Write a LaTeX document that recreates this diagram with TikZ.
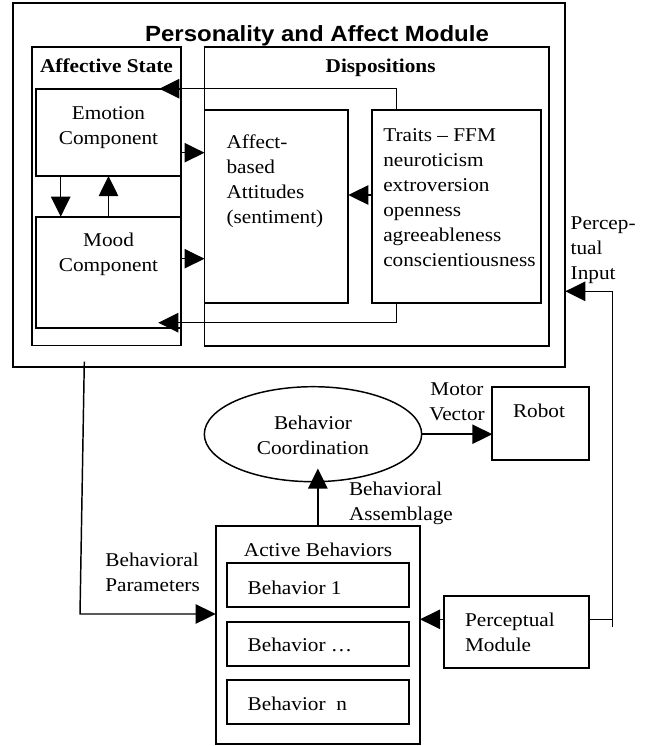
\documentclass[tikz,border=0pt]{standalone}
\usepackage{fontspec}
\setmainfont[FakeStretch=1.09]{Liberation Serif}
\setsansfont[FakeStretch=1.09]{Liberation Sans}
\usetikzlibrary{arrows.meta,shapes.geometric}
\newcommand\txtblock[2]{\begin{tabular}[t]{@{}#1@{}}#2\end{tabular}}
\newcommand\boxnode[5]{\node[box, minimum width={(#4-#2)*0.75pt}, minimum height={(#5-#3)*0.75pt}] (#1) at ({(#2+#4)/2},{(#3+#5)/2}) {};}
\begin{document}
\begin{tikzpicture}[x=0.75pt,y=-0.75pt,
  font=\fontsize{14.625pt}{18.75pt}\selectfont,
  box/.style={draw, line width=1.4pt, rectangle, inner sep=0pt, outer sep=0pt},
  conn/.style={line width=1.1pt},
  arr/.style={conn, -{Triangle[length=15pt,width=14.5pt]}},
  txt/.style={inner sep=0pt, outer sep=0pt},
  lbl/.style={txt, anchor=base west},
  ctr/.style={txt, anchor=base}]
\useasboundingbox (0,0) rectangle (646,746);

% boxes
\boxnode{outer}{12.6}{3.3}{565.3}{367.3}
\boxnode{affst}{32}{46.7}{181}{345.5}
\boxnode{disp}{204.5}{46.7}{549}{345.7}
\boxnode{emo}{36}{88.7}{181}{176}
\boxnode{mood}{36}{216.7}{181}{327.7}
\boxnode{aff}{204.5}{110}{348.3}{302.7}
\boxnode{traits}{372.3}{110}{541}{302.7}
\boxnode{robot}{492.3}{387.3}{589}{460}
\boxnode{act}{215.7}{526}{420}{744}
\boxnode{bone}{227.3}{563.3}{409}{606.7}
\boxnode{bdots}{227.3}{621.7}{409}{665.7}
\boxnode{bn}{227.3}{680}{409}{724}
\boxnode{perc}{444.3}{595.7}{589}{668.3}
\node[draw, ellipse, line width=1.1pt, inner sep=0pt, outer sep=0pt,
  minimum width=163pt, minimum height=71.25pt] (coord) at (313,434.2) {};

% texts
\node[ctr] (tTitle) at (317,41.7) {\sffamily\bfseries\fontsize{16.5pt}{20pt}\selectfont Personality and Affect Module};
\node[ctr] (tAS) at (106.5,72.7) {\bfseries Affective State};
\node[ctr] (tDisp) at (380.6,72.7) {\bfseries Dispositions};
\node[ctr] (tEmo) at (108.5,119.3) {\txtblock{c}{Emotion\\Component}};
\node[ctr] (tMood) at (108.5,246.7) {\txtblock{c}{Mood\\Component}};
\node[lbl] (tAff) at (226.5,148.3) {\txtblock{l}{Affect-\\based\\Attitudes\\(sentiment)}};
\node[lbl] (tTraits) at (383.3,141.7) {\txtblock{l}{Traits – FFM\\neuroticism\\extroversion\\openness\\agreeableness\\conscientiousness}};
\node[lbl] (tPI) at (570.7,229.3) {\txtblock{l}{Percep-\\tual\\Input}};
\node[ctr] (tCoord) at (313,429.3) {\txtblock{c}{Behavior\\Coordination}};
\node[ctr] (tMV) at (457,395) {\txtblock{c}{Motor\\Vector}};
\node[ctr] (tRobot) at (539,417.7) {Robot};
\node[lbl] (tBA) at (349,495) {\txtblock{l}{Behavioral\\Assemblage}};
\node[lbl] (tBP) at (105.4,566) {\txtblock{l}{Behavioral\\Parameters}};
\node[ctr] (tAct) at (318,556.7) {Active Behaviors};
\node[lbl] (tB1) at (247.7,594) {Behavior 1};
\node[lbl] (tB2) at (247.7,651.7) {Behavior …};
\node[lbl] (tB3) at (247.7,710) {Behavior~ n};
\node[lbl] (tPM) at (465,626) {\txtblock{l}{Perceptual\\Module}};

% connectors
\coordinate (tx) at (396.7,0);
\coordinate (topTip) at (159.3,88.7);
\coordinate (botTip) at (158.3,322.7);
\draw[arr] (tx |- traits.north) |- (topTip);
\draw[arr] (tx |- traits.south) |- (botTip);
\coordinate (yEA) at (0,152.7);
\draw[arr] (emo.east |- yEA) -- (aff.west |- yEA);
\coordinate (yMA) at (0,258.7);
\draw[arr] (mood.east |- yMA) -- (aff.west |- yMA);
\coordinate (yTA) at (0,195);
\draw[arr] (traits.west |- yTA) -- (aff.east |- yTA);
\coordinate (xEM) at (60.7,0);
\draw[arr] (emo.south -| xEM) -- (mood.north -| xEM);
\draw[arr] (mood.north) -- (emo.south);

\coordinate (bpS) at (84.3,361.7);
\coordinate (bpC) at (80,614);
\draw[arr] (bpS) -- (bpC) -- (act.west |- bpC);
\coordinate (ellTip) at (318,468.5);
\draw[arr] (act.north) -- (act.north |- ellTip);
\draw[arr] (coord.east) -- (robot.west |- coord.east);
\coordinate (yPA) at (0,619.3);
\draw[arr] (perc.west |- yPA) -- (act.east |- yPA);
\coordinate (vx) at (612.7,0);
\draw[conn] (perc.east |- yPA) -- (vx |- yPA);
\coordinate (vBot) at (612.7,627);
\coordinate (yIn) at (0,291.3);
\draw[arr] (vBot) |- (outer.east |- yIn);
\end{tikzpicture}
\end{document}
